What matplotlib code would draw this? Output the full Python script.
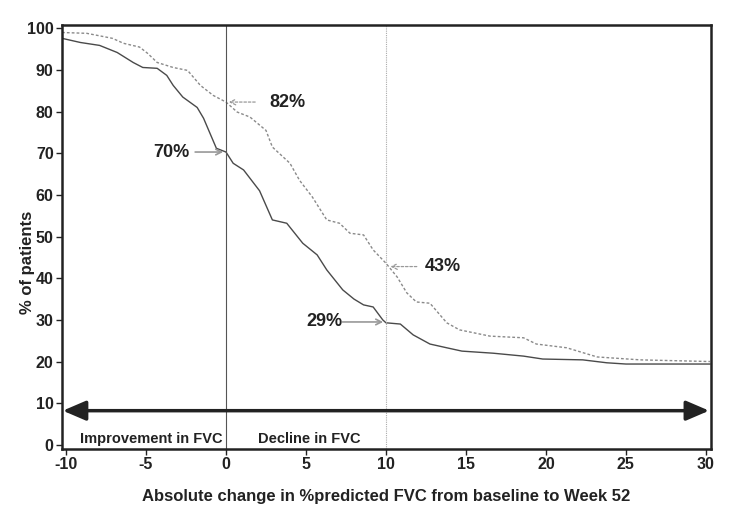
import numpy as np
import matplotlib.pyplot as plt

plt.rcParams['font.family'] = ['Liberation Sans', 'DejaVu Sans']
plt.rcParams['font.weight'] = 'bold'
plt.rcParams['axes.unicode_minus'] = False

# solid curve (lower)
x_solid = [-10.25, -9.1, -7.9, -6.8, -5.8, -5.2, -4.3, -3.7, -3.3, -2.7, -1.8, -1.4, -1.0, -0.6,
           0.0, 0.45, 1.1, 2.1, 2.9, 3.8, 4.8, 5.7, 6.3, 7.3, 8.0, 8.6, 9.2, 9.8, 10.0, 10.9,
           11.7, 12.75, 13.8, 14.75, 16.7, 18.6, 19.8, 22.3, 23.8, 25.0, 30.25]
y_solid = [97.6, 96.6, 95.9, 94.2, 91.8, 90.6, 90.4, 88.7, 86.3, 83.5, 81.0, 78.4, 74.8, 71.2,
           70.3, 67.6, 66.0, 61.0, 54.0, 53.2, 48.4, 45.6, 42.0, 37.2, 35.0, 33.6, 33.1, 30.0, 29.3, 29.0,
           26.4, 24.2, 23.3, 22.5, 22.0, 21.3, 20.6, 20.4, 19.7, 19.4, 19.4]

# dashed curve (upper)
x_dash = [-10.25, -8.7, -7.1, -6.4, -5.4, -4.9, -4.3, -3.3, -2.4, -1.6, -0.8, 0.0, 0.7, 1.5,
          2.5, 2.9, 4.0, 4.6, 5.4, 6.3, 7.1, 7.75, 8.6, 9.2, 10.0, 10.7, 11.3, 11.9, 12.75,
          13.8, 14.6, 16.5, 18.6, 19.4, 21.3, 23.2, 25.9, 30.25]
y_dash = [99.0, 98.8, 97.6, 96.4, 95.5, 94.0, 91.8, 90.6, 89.9, 86.3, 83.9, 82.3, 79.9, 78.7,
          75.5, 71.5, 67.6, 63.5, 59.5, 54.0, 53.2, 50.8, 50.4, 46.8, 43.6, 40.3, 36.5, 34.3, 34.0,
          29.3, 27.6, 26.1, 25.7, 24.2, 23.3, 21.1, 20.4, 20.0]

fig = plt.figure(figsize=(7.45, 5.07), dpi=100)
ax = fig.add_axes([0.0832, 0.1144, 0.8708, 0.8363])

ax.plot(x_solid, y_solid, color='#4a4a4a', lw=1.0)
ax.plot(x_dash, y_dash, color='#8a8a8a', lw=1.0, ls=(0, (2, 1.5)))

ax.axvline(0, color='#555555', lw=0.8)
ax.axvline(10, color='#aaaaaa', lw=0.8, ls=(0, (1, 1)))

# annotations
ax.annotate('', xy=(0, 82.3), xytext=(2.0, 82.3),
            arrowprops=dict(arrowstyle='->', color='#999999', lw=0.9, ls=(0, (2, 1.5))))
ax.text(2.7, 82.3, '82%', fontsize=13, fontweight='bold', va='center', color='#222222')
ax.annotate('', xy=(0, 70.3), xytext=(-2.1, 70.3),
            arrowprops=dict(arrowstyle='->', color='#999999', lw=1.2))
ax.text(-2.3, 70.3, '70%', fontsize=13, fontweight='bold', va='center', ha='right', color='#222222')
ax.annotate('', xy=(10.1, 42.8), xytext=(12.1, 42.8),
            arrowprops=dict(arrowstyle='->', color='#999999', lw=0.9, ls=(0, (2, 1.5))))
ax.text(12.4, 42.8, '43%', fontsize=13, fontweight='bold', va='center', color='#222222')
ax.annotate('', xy=(10.0, 29.5), xytext=(7.1, 29.5),
            arrowprops=dict(arrowstyle='->', color='#999999', lw=1.2))
ax.text(7.3, 29.5, '29%', fontsize=13, fontweight='bold', va='center', ha='right', color='#222222')

# double arrow
ax.annotate('', xy=(-10.2, 8.2), xytext=(30.2, 8.2),
            arrowprops=dict(arrowstyle='<|-|>,head_length=1.4,head_width=0.6', color='#222222', lw=2.5,
                            shrinkA=0, shrinkB=0))
ax.text(-9.1, 1.5, 'Improvement in FVC', fontsize=10.5, fontweight='bold', va='center', color='#222222')
ax.text(2.0, 1.5, 'Decline in FVC', fontsize=10.5, fontweight='bold', va='center', color='#222222')

ax.set_xlim(-10.25, 30.3)
ax.set_ylim(-1, 100.8)
ax.set_xticks(np.arange(-10, 31, 5))
ax.set_yticks(np.arange(0, 101, 10))
ax.tick_params(labelsize=11.5, width=1, length=4, pad=2, color='#222222', labelcolor='#222222')
for lab in ax.get_xticklabels() + ax.get_yticklabels():
    lab.set_fontweight('bold')
for s in ax.spines.values():
    s.set_linewidth(1.8)
    s.set_color('#222222')

ax.set_ylabel('% of patients', fontsize=12, fontweight='bold', color='#222222')
ax.yaxis.set_label_coords(-0.042, 0.44)
ax.set_xlabel('Absolute change in %predicted FVC from baseline to Week 52', fontsize=12,
              fontweight='bold', color='#222222', labelpad=12)

fig.savefig('out.png', dpi=100)
